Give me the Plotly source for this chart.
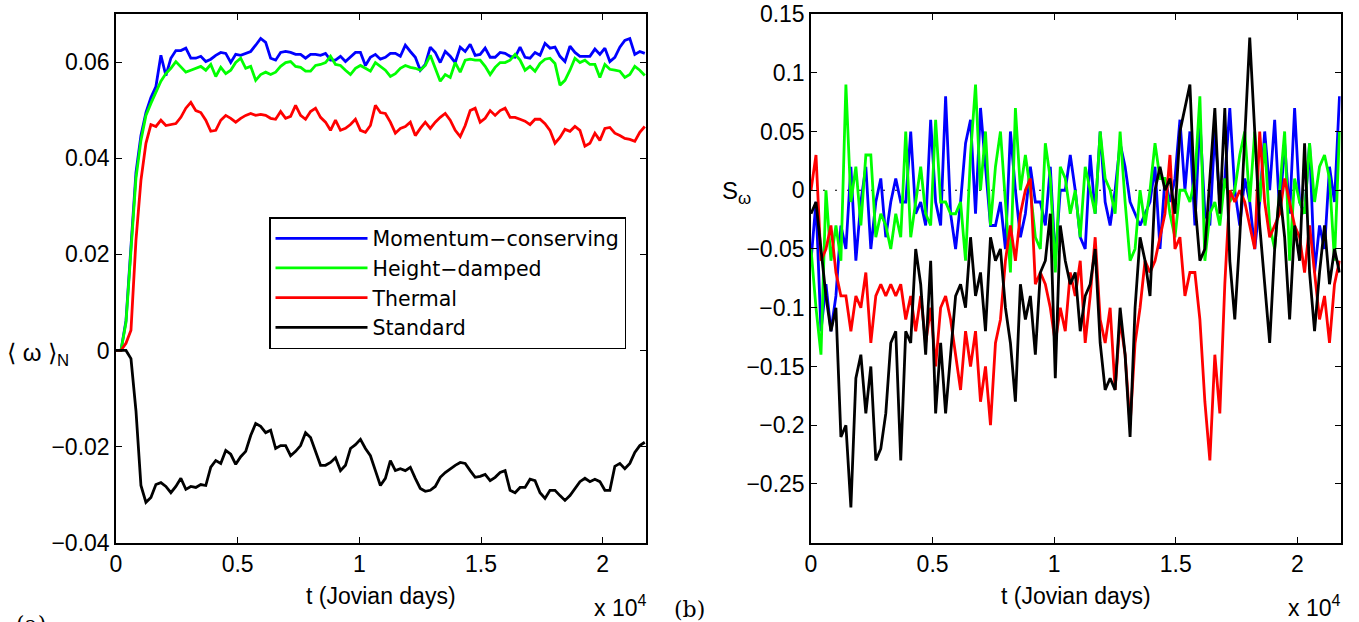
import numpy as np
import plotly.graph_objects as go

W, H = 1359, 622

# ---------------- data ----------------
# sampling times (Jovian days) for both panels
t_days = np.arange(107) * 205.0

# Panel (a): <omega>_N, values in units of 1e-3
momentum_a_e3 = [0, 0, 6.2, 20.8, 37.0, 44.7, 49.5, 52.6, 54.9, 61.4, 57.2, 60.8, 62.4, 62.4, 62.9, 60.8, 60.8, 61.2, 60.1, 60.6,
 61.4, 62.0, 61.8, 59.9, 61.6, 61.4, 61.8, 62.2, 63.5, 64.9, 64.1, 60.8, 60.4, 62.0, 62.2, 62.0, 61.6, 61.6, 60.8, 61.6,
 61.6, 61.4, 61.8, 60.4, 60.4, 61.2, 60.1, 61.0, 62.0, 62.0, 59.3, 61.0, 61.6, 60.6, 61.0, 61.8, 61.8, 61.2, 63.5, 62.2,
 61.0, 58.3, 59.5, 63.1, 62.0, 59.9, 62.2, 61.2, 59.9, 63.1, 62.2, 63.7, 61.4, 61.6, 62.9, 61.0, 61.0, 62.0, 61.8, 61.2,
 61.0, 63.1, 61.0, 60.8, 62.0, 61.4, 63.9, 62.9, 63.1, 61.2, 60.1, 63.3, 62.0, 61.2, 61.2, 61.2, 62.7, 61.6, 62.9, 60.1,
 61.0, 63.1, 64.5, 64.9, 61.6, 62.2, 61.8]
height_a_e3 = [0, 0, 5.8, 19.8, 35.8, 43.7, 48.9, 51.4, 53.7, 56.0, 57.6, 58.7, 60.1, 59.1, 57.9, 58.3, 58.7, 59.1, 58.3, 59.5,
 57.0, 58.9, 57.6, 58.3, 59.9, 60.8, 58.7, 59.1, 56.2, 57.4, 57.9, 57.4, 57.9, 59.1, 59.9, 60.1, 59.1, 58.9, 58.1, 58.1,
 59.3, 59.5, 59.9, 61.2, 59.5, 59.3, 58.3, 57.4, 58.7, 59.3, 58.7, 58.1, 59.9, 59.1, 58.3, 57.0, 57.6, 58.7, 59.3, 58.9,
 58.7, 58.3, 59.3, 61.4, 58.7, 56.0, 57.4, 56.8, 59.9, 57.9, 60.4, 60.6, 60.4, 60.4, 59.1, 57.4, 58.9, 59.9, 59.9, 60.4,
 61.6, 60.4, 58.3, 59.1, 58.1, 59.7, 60.6, 60.8, 59.7, 55.2, 56.2, 58.3, 60.8, 59.9, 60.4, 59.5, 59.5, 56.8, 59.5, 58.5,
 58.3, 58.1, 56.8, 57.4, 59.1, 58.3, 57.2]
thermal_a_e3 = [0, 0, 1.5, 4.2, 22.9, 35.4, 43.1, 47.0, 46.6, 47.9, 46.8, 47.0, 47.2, 48.5, 50.4, 51.6, 49.9, 49.5, 47.9, 45.6,
 45.8, 47.9, 48.9, 48.3, 47.5, 48.3, 48.9, 49.3, 48.9, 49.1, 48.9, 48.3, 48.1, 49.7, 48.3, 48.7, 51.0, 48.9, 48.1, 49.7,
 50.4, 48.5, 47.5, 45.8, 47.9, 45.8, 46.2, 47.0, 48.1, 45.8, 45.4, 46.8, 51.0, 49.5, 49.3, 47.5, 45.2, 46.2, 46.6, 47.5,
 44.7, 46.2, 47.5, 46.2, 47.5, 48.5, 49.3, 47.9, 45.8, 44.5, 46.8, 49.9, 50.4, 47.5, 48.3, 49.9, 48.9, 49.9, 50.4, 48.5,
 48.5, 48.1, 47.7, 47.0, 48.1, 48.1, 47.2, 45.8, 43.1, 44.3, 46.0, 45.6, 46.6, 45.8, 42.5, 43.1, 45.2, 43.7, 46.2, 46.4,
 45.2, 44.7, 44.1, 43.9, 43.5, 45.4, 46.6]
standard_a_e3 = [0, 0, 0, -1.7, -12.5, -28.1, -31.6, -30.6, -27.9, -27.5, -28.3, -29.6, -28.3, -26.6, -28.9, -28.3, -28.5, -27.9, -28.1, -24.3,
 -22.9, -23.5, -20.8, -21.6, -23.7, -22.1, -21.0, -17.7, -15.2, -15.8, -17.1, -16.6, -20.4, -19.8, -19.8, -21.9, -21.0, -19.8, -17.1, -18.1,
 -20.8, -23.9, -23.9, -23.3, -22.3, -25.0, -23.9, -20.4, -19.6, -18.5, -20.4, -21.9, -25.0, -28.1, -26.6, -22.9, -25.0, -24.6, -25.0, -24.3,
 -26.6, -28.7, -29.3, -29.1, -28.3, -26.4, -25.4, -24.6, -23.9, -23.3, -23.5, -25.0, -26.4, -26.2, -25.8, -27.1, -26.4, -25.4, -25.0, -29.1,
 -29.6, -28.5, -28.5, -26.8, -27.1, -29.6, -30.8, -29.1, -29.1, -30.2, -31.2, -30.2, -28.7, -27.3, -26.6, -27.3, -26.8, -27.3, -29.1, -29.1,
 -24.1, -23.5, -24.6, -23.5, -21.2, -19.8, -19.1]

# Panel (b): S_omega, values in units of 1e-2
momentum_b_e2 = [-6, -1, -12, -8, -12, -9, -3, -5, 2, -6, -1, 2, -5, -1, 1, -4, -1, 1, -1, -1,
 5, -2, -1, -3, 6, -1, -3, 8, -2, -5, -1, 4, 6, -2, 7, 2, -3, -3, -1, -5,
 5, 0, -4, -2, 2, -1, -1, -3, 2, -6, 0, 0, 3, 0, -4, -5, 3, -2, 5, -1,
 -3, 0, 4, 2, -1, -2, -3, -2, -1, 2, -5, 1, -1, 1, 6, 0, 5, -3, 6, -2,
 -3, 5, -1, 1, 7, 0, -3, 1, -1, -5, -1, 5, 0, 6, -2, 4, -2, 7, -1, -2,
 4, -7, -3, -5, 2, -1, 8]
height_b_e2 = [-5, -10, -14, 0, -6, -3, -6, 9, -1, 2, -3, 3, 3, -4, -2, -3, -5, -2, -4, 5,
 -4, -1, 2, -2, -3, 6, -1, -1, -2, -2, -1, -6, 3, 9, 0, 5, -3, 2, 5, -1,
 -7, 7, 0, 3, 0, -4, -5, 4, 1, -7, 2, 1, -2, 0, -4, 2, 0, -2, 5, 1,
 0, -2, 5, -1, -6, -5, 0, -3, 0, 4, 1, 1, -2, -4, 0, 0, -1, 1, 8, -6,
 -2, -1, -3, 1, -1, 0, 3, 5, -1, 5, -1, 4, -3, -5, 0, 5, -6, 1, -1, -2,
 4, -1, 2, 3, 1, -6, 5]
thermal_b_e2 = [0, 3, -6, -5, -3, -7, -9, -9, -12, -9, -10, -7, -13, -9, -8, -9, -8, -9, -8, -11,
 -9, -12, -9, -13, -10, -15, -10, -9, -11, -14, -17, -12, -15, -12, -18, -15, -20, -13, -11, -6,
 -3, -6, -2, 0, 1, -8, -7, -8, -10, -13, -10, -12, -7, -9, -6, -13, -9, -4, -11, -13,
 -10, -17, -11, -14, -20, -13, -10, -6, -7, -6, -4, -2, 3, -5, -4, -9, -7, -7, -11, -18,
 -23, -14, -19, -8, 0, -1, 0, -1, -3, -5, 5, -1, -4, -3, -2, 1, -1, -3, -4, -7,
 -3, -7, -11, -9, -13, -8, -6]
standard_b_e2 = [-2, -1, -5, -9, -12, -10, -21, -20, -27, -16, -14, -19, -15, -23, -22, -19, -13, -12, -23, -12,
 -13, -5, -8, -14, -6, -19, -13, -19, -14, -9, -8, -10, -4, -9, -7, -12, -4, -6, -5, -10,
 -13, -18, -8, -11, -9, -14, -7, -6, -2, -16, -3, -6, -8, -7, -12, -9, -8, -5, -13, -17,
 -16, -17, -10, -14, -21, -10, -4, -6, -9, 0, 2, 0, 1, -2, 5, 7, 9, -1, -6, -5,
 1, 7, -2, 7, -6, -11, -4, 5, 13, 5, -3, -8, -13, -5, 0, -4, -11, -3, -6, 4,
 -7, -12, -7, -3, -8, -5, -7]

series_names = ["Momentum\u2212conserving", "Height\u2212damped", "Thermal", "Standard"]
series_colors = ["#0000ff", "#00ff00", "#ff0000", "#000000"]

x_tickvals = [0, 5000, 10000, 15000, 20000]
x_ticktext = ["0", "0.5", "1", "1.5", "2"]
ya_tickvals = [-0.04, -0.02, 0, 0.02, 0.04, 0.06]
ya_ticktext = ["\u22120.04", "\u22120.02", "0", "0.02", "0.04", "0.06"]
yb_tickvals = [-0.25, -0.2, -0.15, -0.1, -0.05, 0, 0.05, 0.1, 0.15]
yb_ticktext = ["\u22120.25", "\u22120.2", "\u22120.15", "\u22120.1", "\u22120.05", "0", "0.05", "0.1", "0.15"]

# ---------------- figure ----------------
FONT = "Liberation Sans, Arial, Helvetica, sans-serif"
fig = go.Figure()

a_series = [momentum_a_e3, height_a_e3, thermal_a_e3, standard_a_e3]
b_series = [momentum_b_e2, height_b_e2, thermal_b_e2, standard_b_e2]

for name, col, vals in zip(series_names, series_colors, a_series):
    fig.add_trace(go.Scatter(x=t_days, y=np.array(vals) * 1e-3, mode="lines", name=name,
                             line=dict(color=col, width=2.8), xaxis="x", yaxis="y"))
for name, col, vals in zip(series_names, series_colors, b_series):
    fig.add_trace(go.Scatter(x=t_days, y=np.array(vals) * 1e-2, mode="lines", name=name,
                             showlegend=False, line=dict(color=col, width=2.8), xaxis="x2", yaxis="y2"))

def px_x(p):
    return p / W

def px_y(p):
    return 1 - p / H

ydom = [px_y(542.7), px_y(14)]
axis_common = dict(showgrid=False, zeroline=False, showline=True, linecolor="black", linewidth=1.5,
                   mirror="ticks", ticks="inside", ticklen=6, tickwidth=1.2, tickcolor="black",
                   tickfont=dict(family=FONT, size=23, color="black"), automargin=False)

fig.update_layout(
    width=W, height=H,
    margin=dict(l=0, r=0, t=0, b=0),
    paper_bgcolor="white", plot_bgcolor="white",
    font=dict(family=FONT, color="black", size=23),
    xaxis=dict(domain=[px_x(116), px_x(646)], range=[0, 21780], anchor="y",
               tickvals=x_tickvals, ticktext=x_ticktext, **axis_common),
    yaxis=dict(domain=ydom, range=[-0.04, 0.07], anchor="x",
               tickvals=ya_tickvals, ticktext=ya_ticktext, **axis_common),
    xaxis2=dict(domain=[px_x(811), px_x(1340.7)], range=[0, 21780], anchor="y2",
                tickvals=x_tickvals, ticktext=x_ticktext, **axis_common),
    yaxis2=dict(domain=ydom, range=[-0.3, 0.15], anchor="x2",
                tickvals=yb_tickvals, ticktext=yb_ticktext, **axis_common),
    legend=dict(x=px_x(269), y=px_y(217), xanchor="left", yanchor="top",
                bordercolor="black", borderwidth=1.5, bgcolor="white",
                font=dict(family="DejaVu Sans, Liberation Sans, sans-serif", size=20.5, color="black"),
                itemwidth=92, tracegroupgap=0),
    showlegend=True,
)

# dotted zero line in panel (b)
fig.add_shape(type="line", xref="x2 domain", yref="y2", x0=0, x1=1, y0=0, y1=0,
              line=dict(color="black", width=1.2, dash="2px,10px"), layer="below")

ann = []
def add_text(text, xp, yp, size=23, family=FONT, xanchor="center", yanchor="middle"):
    ann.append(dict(text=text, x=px_x(xp), y=px_y(yp), xref="paper", yref="paper",
                    showarrow=False, xanchor=xanchor, yanchor=yanchor,
                    font=dict(family=family, size=size, color="black")))

add_text("t (Jovian days)", 381, 596)
add_text("t (Jovian days)", 1076, 596)
add_text("x 10<sup>4</sup>", 648, 606, xanchor="right")
add_text("x 10<sup>4</sup>", 1342, 606, xanchor="right")
add_text("\u27e8 \u03c9 \u27e9<sub>N</sub>", 38, 354, size=24)
add_text("S<sub>\u03c9</sub>", 736, 192, size=24)
add_text("(b)", 689, 609, size=22, family="DejaVu Serif, Liberation Serif, serif")
add_text("(a)", 31, 624, size=22, family="DejaVu Serif, Liberation Serif, serif")
fig.update_layout(annotations=ann)

fig.write_html("out.html", config={"displayModeBar": False},
               post_script="document.body.style.margin='0px';")
